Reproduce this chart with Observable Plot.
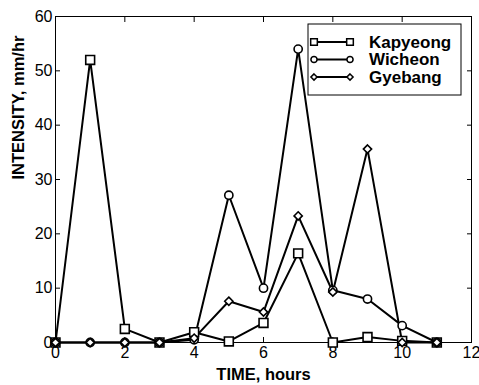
<!DOCTYPE html>
<html>
<head>
<meta charset="utf-8">
<script src="https://cdn.jsdelivr.net/npm/d3@7"></script>
<script src="https://cdn.jsdelivr.net/npm/@observablehq/plot@0.6"></script>
<style>
  html, body { margin: 0; padding: 0; background: #fff; }
  #chart svg { display: block; }
</style>
</head>
<body>
<div id="chart"></div>
<script>
const hours = [0, 1, 2, 3, 4, 5, 6, 7, 8, 9, 10, 11];
const kapyeong = [0, 52, 2.5, 0, 1.9, 0.2, 3.6, 16.4, 0, 1.0, 0.3, 0];
const wicheon  = [0, 0, 0, 0, 0.5, 27.1, 10, 54, 9.6, 8.0, 3.1, 0];
const gyebang  = [0, 0, 0, 0, 0.8, 7.6, 5.6, 23.3, 9.3, 35.6, 0, 0];
const seriesNames = ["Kapyeong", "Wicheon", "Gyebang"];
const seriesSymbols = ["square", "circle", "diamond2"];
const xTicks = [0, 2, 4, 6, 8, 10, 12];
const yTicks = [0, 10, 20, 30, 40, 50, 60];
const xLabel = "TIME, hours";
const yLabel = "INTENSITY, mm/hr";

const seriesValues = [kapyeong, wicheon, gyebang];
const rows = seriesNames.flatMap((name, i) =>
  hours.map((h, j) => ({series: name, t: h, v: seriesValues[i][j]})));
const markerR = {Kapyeong: 5, Wicheon: 4.1, Gyebang: 3.7};

const font = "'Liberation Sans', Arial, Helvetica, sans-serif";
const noLabel = () => "";

const chart = Plot.plot({
  width: 479,
  height: 385,
  marginLeft: 55,
  marginRight: 8,
  marginTop: 16,
  marginBottom: 43,
  style: {fontFamily: font, fontSize: "16px", color: "#000", background: "#fff"},
  x: {domain: [0, 12], ticks: xTicks},
  y: {domain: [0, 60], ticks: yTicks},
  marks: [
    Plot.frame({stroke: "#000", strokeWidth: 1}),
    // inward ticks on all sides
    Plot.axisX(xTicks, {anchor: "bottom", tickSize: -5, tickFormat: noLabel, label: null}),
    Plot.axisX(xTicks, {anchor: "top", tickSize: -5, tickFormat: noLabel, label: null}),
    Plot.axisY(yTicks, {anchor: "left", tickSize: -5, tickFormat: noLabel, label: null}),
    Plot.axisY(yTicks, {anchor: "right", tickSize: -5, tickFormat: noLabel, label: null}),
    // tick labels
    Plot.axisX(xTicks, {anchor: "bottom", tickSize: 0, tickPadding: 4, label: null, fontSize: 16}),
    Plot.axisY(yTicks, {anchor: "left", tickSize: 0, tickPadding: 3, label: null, fontSize: 16}),
    // data
    Plot.line(rows, {x: "t", y: "v", z: "series", stroke: "#000", strokeWidth: 2}),
    ...seriesNames.map((name, i) =>
      Plot.dot(rows.filter(d => d.series === name), {
        x: "t", y: "v", symbol: seriesSymbols[i], r: markerR[name],
        stroke: "#000", strokeWidth: 1.6, fill: "#fff"
      })),
    // axis titles
    Plot.text([xLabel], {frameAnchor: "bottom", dy: 32, fontWeight: "bold", fontSize: 16.5, lineAnchor: "middle"}),
    Plot.text([yLabel], {frameAnchor: "left", dx: -37, rotate: -90, fontWeight: "bold", fontSize: 16.5, lineAnchor: "middle"})
  ]
});

// legend box inside the plot (upper right)
const svg = d3.select(chart);
const lg = svg.append("g").attr("font-family", font).attr("text-anchor", "start");
const box = {x: 308, y: 24, w: 153, h: 71};
lg.append("rect").attr("x", box.x).attr("y", box.y).attr("width", box.w).attr("height", box.h)
  .attr("fill", "#fff").attr("stroke", "#000").attr("stroke-width", 1);
const symTypes = {square: d3.symbolSquare, circle: d3.symbolCircle, diamond2: d3.symbolDiamond2};
seriesNames.forEach((name, i) => {
  const cy = 42 + i * 17.5;
  lg.append("line").attr("x1", 314).attr("x2", 350).attr("y1", cy).attr("y2", cy)
    .attr("stroke", "#000").attr("stroke-width", 2);
  const r = markerR[name] * 0.75;
  const path = d3.symbol(symTypes[seriesSymbols[i]], Math.PI * r * r)();
  [314, 350].forEach(px => {
    lg.append("path").attr("d", path).attr("transform", `translate(${px},${cy})`)
      .attr("fill", "#fff").attr("stroke", "#000").attr("stroke-width", 1.5);
  });
  lg.append("text").attr("x", 369).attr("y", cy).attr("dy", "0.35em")
    .attr("font-weight", "bold").attr("font-size", 17).attr("fill", "#000").text(name);
});

document.getElementById("chart").appendChild(chart);
</script>
</body>
</html>
